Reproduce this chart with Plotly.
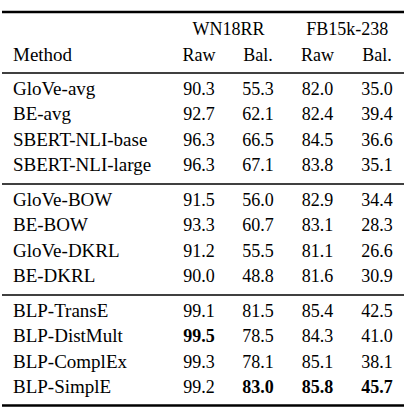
import plotly.graph_objects as go

# ---- data ----
methods = ["GloVe-avg", "BE-avg", "SBERT-NLI-base", "SBERT-NLI-large",
           "GloVe-BOW", "BE-BOW", "GloVe-DKRL", "BE-DKRL",
           "BLP-TransE", "BLP-DistMult", "BLP-ComplEx", "BLP-SimplE"]
groups = [0, 0, 0, 0, 1, 1, 1, 1, 2, 2, 2, 2]
wn18rr_raw = [90.3, 92.7, 96.3, 96.3, 91.5, 93.3, 91.2, 90.0, 99.1, 99.5, 99.3, 99.2]
wn18rr_bal = [55.3, 62.1, 66.5, 67.1, 56.0, 60.7, 55.5, 48.8, 81.5, 78.5, 78.1, 83.0]
fb15k_raw = [82.0, 82.4, 84.5, 83.8, 82.9, 83.1, 81.1, 81.6, 85.4, 84.3, 85.1, 85.8]
fb15k_bal = [35.0, 39.4, 36.6, 35.1, 34.4, 28.3, 26.6, 30.9, 42.5, 41.0, 38.1, 45.7]
datasets = ["WN18RR", "FB15k-238"]
subheaders = ["Raw", "Bal.", "Raw", "Bal."]
method_header = "Method"

# ---- layout constants ----
W, H = 408, 412
FONT = "Liberation Serif, Times New Roman, serif"
FS = 18
FS_M = 19
col_x = [199, 258, 317.5, 377]
method_x = 13
first_row_y = 90
row_pitch = 25.5
group_pitch = 111

row_y = []
pos_in_group = {}
for g in groups:
    i = pos_in_group.get(g, 0)
    row_y.append(first_row_y + g * group_pitch + i * row_pitch)
    pos_in_group[g] = i + 1

fig = go.Figure()

# method column
fig.add_trace(go.Scatter(
    x=[method_x] * len(methods), y=row_y, mode="text", text=methods,
    textposition="middle right",
    textfont=dict(family=FONT, size=FS_M, color="#000"),
    hoverinfo="skip", showlegend=False))

# numeric columns
for cx, col in zip(col_x, [wn18rr_raw, wn18rr_bal, fb15k_raw, fb15k_bal]):
    best = max(col)
    txt = [f"<b>{v:.1f}</b>" if v == best else f"{v:.1f}" for v in col]
    fig.add_trace(go.Scatter(
        x=[cx] * len(col), y=row_y, mode="text", text=txt,
        textposition="middle center",
        textfont=dict(family=FONT, size=FS, color="#000"),
        hoverinfo="skip", showlegend=False))

# headers
header_y1 = 30
header_y2 = 56
fig.add_trace(go.Scatter(
    x=[(col_x[0] + col_x[1]) / 2, (col_x[2] + col_x[3]) / 2],
    y=[header_y1, header_y1], mode="text", text=datasets,
    textposition="middle center",
    textfont=dict(family=FONT, size=FS, color="#000"),
    hoverinfo="skip", showlegend=False))
fig.add_trace(go.Scatter(
    x=col_x, y=[header_y2] * 4, mode="text", text=subheaders,
    textposition="middle center",
    textfont=dict(family=FONT, size=FS, color="#000"),
    hoverinfo="skip", showlegend=False))
fig.add_trace(go.Scatter(
    x=[method_x], y=[header_y2], mode="text", text=[method_header],
    textposition="middle right",
    textfont=dict(family=FONT, size=FS_M, color="#000"),
    hoverinfo="skip", showlegend=False))

# rules
x0, x1 = 2, 404
rules = [(12, 2.5), (73, 1.3), (73 + group_pitch, 1.3), (73 + 2 * group_pitch, 1.3), (405.5, 2.5)]
for y, w in rules:
    fig.add_shape(type="line", xref="x", yref="y", x0=x0, x1=x1, y0=y, y1=y,
                  line=dict(color="#000", width=w))

fig.update_layout(
    width=W, height=H, margin=dict(l=0, r=0, t=0, b=0),
    paper_bgcolor="white", plot_bgcolor="white",
    xaxis=dict(range=[0, W], visible=False, fixedrange=True),
    yaxis=dict(range=[H, 0], visible=False, fixedrange=True),
)

fig.write_html("out.html", config={"displayModeBar": False},
               post_script="document.body.style.margin='0';document.body.style.overflow='hidden';")
